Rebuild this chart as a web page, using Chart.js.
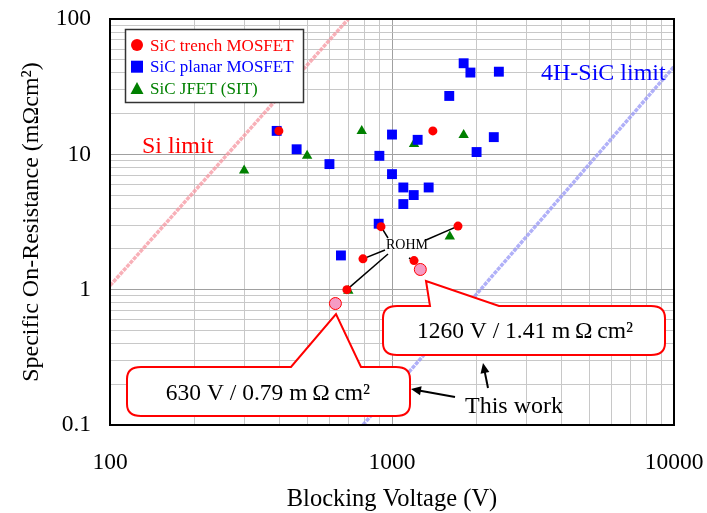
<!DOCTYPE html>
<html>
<head>
<meta charset="utf-8">
<script src="https://cdn.jsdelivr.net/npm/chart.js@4.4.1/dist/chart.umd.min.js"></script>
<style>
  body { margin: 0; background: #fff; }
</style>
</head>
<body>
<canvas id="sicChart" width="707" height="513"></canvas>
<script>
// blocking voltage (V) vs specific on-resistance (mOhm cm2)
const trenchV = [397, 1396, 914, 1714, 789, 1197, 692];
const trenchR = [14.9, 14.9, 2.92, 2.95, 1.69, 1.64, 1.0];
const planarV = [390, 459, 600, 902, 1000, 1000, 1233, 1097, 1194, 1349, 1097, 1596, 1795, 1897, 2393, 2296, 1995, 897, 659];
const planarR = [14.9, 10.9, 8.47, 9.75, 14.0, 7.14, 12.8, 5.69, 5.0, 5.69, 4.29, 27.0, 47.1, 40.2, 40.8, 13.4, 10.4, 3.07, 1.79];
const jfetV = [299, 500, 781, 1197, 1795, 1603, 700];
const jfetR = [7.58, 9.75, 14.9, 11.9, 13.9, 2.47, 0.98];
const thisWorkV = [630, 1260];
const thisWorkR = [0.79, 1.41];
const siLimitV = [100, 700];
const siLimitR = [1.07, 100];
const sicLimitV = [789, 10000];
const sicLimitR = [0.1, 44.5];

const xTickLabels = ['100', '1000', '10000'];
const yTickLabels = ['0.1', '1', '10', '100'];
const seriesNames = ['SiC trench MOSFET', 'SiC planar MOSFET', 'SiC JFET (SIT)'];
// trench points that the ROHM label points at
const rohmIdx = [2, 3, 4, 6, 5];

const FONT = "'Liberation Serif', 'Times New Roman', serif";

function toXY(xs, ys) {
    return xs.map((v, i) => ({ x: v, y: ys[i] }));
}

// 1..9 x each decade, for the log grid
function decadeTicks(labels) {
    const out = [];
    labels.forEach((l, i) => {
        const base = Number(l);
        out.push(base);
        if (i < labels.length - 1) {
            for (let m = 2; m <= 9; m++) out.push(base * m);
        }
    });
    return out.map(v => ({ value: v }));
}

function isDecade(v) {
    const e = Math.log10(v);
    return Math.abs(e - Math.round(e)) < 1e-6;
}

function labelFor(labels, value) {
    const found = labels.find(l => Math.abs(Math.log10(Number(l)) - Math.log10(value)) < 1e-6);
    return found || '';
}

// keep the plot box where the figure has it
function fixBox(scale, w, h) {
    if (w !== null) scale.width = w;
    if (h !== null) scale.height = h;
    scale.paddingTop = 0;
    scale.paddingBottom = 0;
    scale.paddingLeft = 0;
    scale.paddingRight = 0;
}

function callout(ctx, l, t, r, b, baseL, baseR, apX, apY) {
    const rx = 14, ry = 12;
    ctx.beginPath();
    ctx.moveTo(l + rx, t);
    ctx.lineTo(baseL, t);
    ctx.lineTo(apX, apY);
    ctx.lineTo(baseR, t);
    ctx.lineTo(r - rx, t);
    ctx.quadraticCurveTo(r, t, r, t + ry);
    ctx.lineTo(r, b - ry);
    ctx.quadraticCurveTo(r, b, r - rx, b);
    ctx.lineTo(l + rx, b);
    ctx.quadraticCurveTo(l, b, l, b - ry);
    ctx.lineTo(l, t + ry);
    ctx.quadraticCurveTo(l, t, l + rx, t);
    ctx.closePath();
    ctx.fillStyle = '#fff';
    ctx.fill();
    ctx.strokeStyle = '#ff0000';
    ctx.lineWidth = 2;
    ctx.stroke();
}

function arrow(ctx, x1, y1, x2, y2) {
    const a = Math.atan2(y2 - y1, x2 - x1), h = 10, w = 4.5;
    ctx.beginPath();
    ctx.moveTo(x1, y1);
    ctx.lineTo(x2 - Math.cos(a) * h * 0.8, y2 - Math.sin(a) * h * 0.8);
    ctx.stroke();
    ctx.beginPath();
    ctx.moveTo(x2, y2);
    ctx.lineTo(x2 - h * Math.cos(a) + w * Math.sin(a), y2 - h * Math.sin(a) - w * Math.cos(a));
    ctx.lineTo(x2 - h * Math.cos(a) - w * Math.sin(a), y2 - h * Math.sin(a) + w * Math.cos(a));
    ctx.closePath();
    ctx.fill();
}

const overlay = {
    id: 'overlay',
    beforeDatasetsDraw(chart) {
        const { ctx, scales: { x, y } } = chart;
        // leader lines from the ROHM label
        const anchors = [[388, 238], [426, 240], [385, 250], [388, 254], [409, 258]];
        ctx.save();
        ctx.strokeStyle = '#000';
        ctx.lineWidth = 1.5;
        rohmIdx.forEach((k, j) => {
            ctx.beginPath();
            ctx.moveTo(anchors[j][0], anchors[j][1]);
            ctx.lineTo(x.getPixelForValue(trenchV[k]), y.getPixelForValue(trenchR[k]));
            ctx.stroke();
        });
        ctx.restore();
    },
    afterDatasetsDraw(chart) {
        const { ctx, chartArea: ca } = chart;
        ctx.save();

        // frame
        ctx.strokeStyle = '#000';
        ctx.lineWidth = 2;
        ctx.strokeRect(ca.left, ca.top, ca.right - ca.left, ca.bottom - ca.top);

        // limit labels
        ctx.textAlign = 'left';
        ctx.textBaseline = 'alphabetic';
        ctx.font = '24px ' + FONT;
        ctx.fillStyle = '#ff0000';
        ctx.fillText('Si limit', 142, 153);
        ctx.fillStyle = '#0000ff';
        ctx.fillText('4H-SiC limit', 541, 80);

        ctx.font = '14px ' + FONT;
        ctx.fillStyle = '#000';
        ctx.fillText('ROHM', 386, 249);

        // legend
        ctx.fillStyle = '#fff';
        ctx.fillRect(125.5, 29.5, 178, 73);
        ctx.strokeStyle = '#333';
        ctx.lineWidth = 1.5;
        ctx.strokeRect(125.5, 29.5, 178, 73);
        const colors = ['#ff0000', '#0000ff', '#008000'];
        ctx.font = '17px ' + FONT;
        seriesNames.forEach((name, i) => {
            const cy = 45 + i * 21.7;
            ctx.fillStyle = colors[i];
            ctx.beginPath();
            if (i === 0) {
                ctx.arc(137, cy, 6, 0, Math.PI * 2);
            } else if (i === 1) {
                ctx.rect(131, cy - 6, 12, 12);
            } else {
                ctx.moveTo(137, cy - 6.5);
                ctx.lineTo(143.5, cy + 5.5);
                ctx.lineTo(130.5, cy + 5.5);
                ctx.closePath();
            }
            ctx.fill();
            ctx.fillText(name, 150, cy + 5.5);
        });

        // "this work" callouts
        callout(ctx, 127, 367, 410, 416, 291, 361, 336, 314);
        callout(ctx, 383, 306, 665, 355, 430, 499, 426, 281);
        ctx.fillStyle = '#000';
        ctx.font = '23.5px ' + FONT;
        ctx.textAlign = 'center';
        ctx.fillText(thisWorkV[0] + ' V / ' + thisWorkR[0].toFixed(2) + ' m\u2009\u03A9\u2009cm\u00B2', 268, 400);
        ctx.fillText(thisWorkV[1] + ' V / ' + thisWorkR[1].toFixed(2) + ' m\u2009\u03A9\u2009cm\u00B2', 525, 338);

        ctx.textAlign = 'left';
        ctx.font = '24px ' + FONT;
        ctx.fillText('This work', 465, 413);
        ctx.strokeStyle = '#000';
        ctx.lineWidth = 2;
        arrow(ctx, 455, 397, 411, 389);
        arrow(ctx, 488, 388, 483, 363);

        ctx.restore();
    }
};

const ctx = document.getElementById('sicChart').getContext('2d');
new Chart(ctx, {
    type: 'scatter',
    data: {
        datasets: [
            {
                label: seriesNames[0],
                data: toXY(trenchV, trenchR),
                pointStyle: 'circle',
                pointRadius: 4.5,
                backgroundColor: '#ff0000',
                borderWidth: 0
            },
            {
                label: seriesNames[1],
                data: toXY(planarV, planarR),
                pointStyle: 'rect',
                pointRadius: 7,
                backgroundColor: '#0000ff',
                borderWidth: 0
            },
            {
                label: seriesNames[2],
                data: toXY(jfetV, jfetR),
                pointStyle: 'triangle',
                pointRadius: 6,
                backgroundColor: '#008000',
                borderWidth: 0
            },
            {
                label: 'This work',
                data: toXY(thisWorkV, thisWorkR),
                pointStyle: 'circle',
                pointRadius: 6,
                backgroundColor: '#f59bc3',
                borderColor: '#ff0000',
                borderWidth: 1
            },
            {
                label: 'Si limit',
                type: 'line',
                data: toXY(siLimitV, siLimitR),
                borderColor: 'rgba(245, 150, 160, 0.75)',
                borderWidth: 3.5,
                borderDash: [4, 1],
                pointRadius: 0
            },
            {
                label: '4H-SiC limit',
                type: 'line',
                data: toXY(sicLimitV, sicLimitR),
                borderColor: 'rgba(150, 150, 245, 0.75)',
                borderWidth: 3.5,
                borderDash: [4, 1],
                pointRadius: 0
            }
        ]
    },
    options: {
        responsive: false,
        animation: false,
        layout: { padding: { top: 19, right: 33, left: 0, bottom: 0 } },
        plugins: {
            legend: { display: false },
            tooltip: { enabled: false }
        },
        scales: {
            x: {
                type: 'logarithmic',
                min: 100,
                max: 10000,
                afterBuildTicks: scale => { scale.ticks = decadeTicks(xTickLabels); },
                afterFit: scale => fixBox(scale, null, 88),
                grid: {
                    drawTicks: false,
                    color: c => isDecade(c.tick.value) ? '#a0a0a0' : '#c8c8c8'
                },
                border: { color: '#000', width: 2 },
                ticks: {
                    autoSkip: false,
                    maxRotation: 0,
                    padding: 24,
                    color: '#000',
                    font: { family: FONT, size: 23.5 },
                    callback: value => labelFor(xTickLabels, value)
                },
                title: {
                    display: true,
                    text: 'Blocking Voltage (V)',
                    color: '#000',
                    font: { family: FONT, size: 24.5, lineHeight: 1 },
                    padding: { top: 0, bottom: 1 }
                }
            },
            y: {
                type: 'logarithmic',
                min: 0.1,
                max: 100,
                afterBuildTicks: scale => { scale.ticks = decadeTicks(yTickLabels); },
                afterFit: scale => fixBox(scale, 110, null),
                grid: {
                    drawTicks: false,
                    color: c => isDecade(c.tick.value) ? '#a0a0a0' : '#c8c8c8'
                },
                border: { color: '#000', width: 2 },
                ticks: {
                    autoSkip: false,
                    padding: 19,
                    color: '#000',
                    font: { family: FONT, size: 23.5 },
                    callback: value => labelFor(yTickLabels, value)
                },
                title: {
                    display: true,
                    text: 'Specific On-Resistance (m\u03A9cm\u00B2)',
                    color: '#000',
                    font: { family: FONT, size: 24, lineHeight: 1 },
                    padding: { top: 20, bottom: 0 }
                }
            }
        }
    },
    plugins: [overlay]
});
</script>
</body>
</html>
